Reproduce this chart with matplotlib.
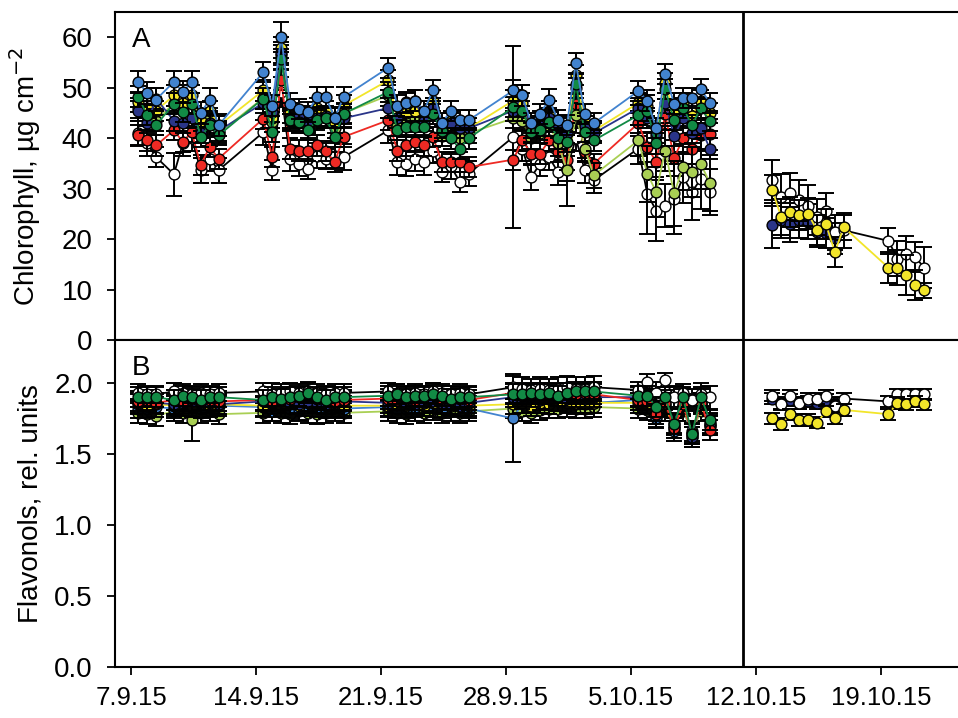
import numpy as np
import matplotlib
matplotlib.use("Agg")
import matplotlib.pyplot as plt
from matplotlib import font_manager

plt.rcParams['font.family'] = ['Liberation Sans', 'DejaVu Sans']
installed = {f.name for f in font_manager.fontManager.ttflist}
if 'Liberation Sans Narrow' in installed:
    xtick_font, xtick_size = 'Liberation Sans Narrow', 22.5
else:
    xtick_font, xtick_size = 'Liberation Sans', 18.5

# days since 7.9.15
days_left = [0.4, 0.9, 1.4, 2.4, 2.9, 3.4, 3.9, 4.4, 4.9,
             7.4, 7.9, 8.4, 8.9, 9.4, 9.9, 10.4, 10.9, 11.4, 11.9,
             14.4, 14.9, 15.4, 15.9, 16.4, 16.9, 17.4, 17.9, 18.4, 18.9,
             21.4, 21.9, 22.4, 22.9, 23.4, 23.9, 24.4, 24.9, 25.4, 25.9,
             28.4, 28.9, 29.4, 29.9, 30.4, 30.9, 31.4, 31.9, 32.4]
days_right = [35.9, 36.4, 36.9, 37.4, 37.9, 38.4, 38.9, 39.4, 39.9,
              42.4, 42.9, 43.4, 43.9, 44.4]
tick_days = [0, 7, 14, 21, 28, 35, 42]
tick_labels = ['7.9.15', '14.9.15', '21.9.15', '28.9.15', '5.10.15', '12.10.15', '19.10.15']
split_day = 34.27

# ---- A: chlorophyll ----
chl_white = [41.0, 39.0, 36.3, 32.9, 39.0, 40.0, 33.7, 36.0, 33.7,
             41.2, 33.7, 49.2, 36.0, 35.0, 34.0, 36.6, 36.0, 36.6, 36.3,
             41.6, 35.3, 35.0, 36.0, 35.3, 37.6, 33.3, 34.5, 31.4, 33.0,
             40.3, 38.0, 32.3, 35.0, 36.3, 33.3, 34.0, 40.0, 33.7, 31.7,
             38.0, 29.0, 25.7, 26.7, 28.0, 32.3, 29.4, 32.0, 29.4]
chl_red = [40.6, 39.6, 38.6, 41.6, 39.3, 41.2, 34.7, 38.3, 36.0,
           43.9, 36.3, 51.5, 38.0, 37.6, 37.6, 38.6, 37.5, 35.3, 40.3,
           43.6, 37.6, 38.6, 39.3, 38.6, 40.3, 35.3, 35.3, 35.3, 34.3,
           35.8, 39.6, 37.0, 37.0, 39.6, 37.3, 35.8, 46.9, 37.3, 35.0,
           43.0, 38.3, 35.3, 44.8, 36.1, 40.0, 38.0, 40.6, 40.8]
chl_ygreen = [46.0, 44.5, 43.5, 47.0, 45.5, 47.0, 42.0, 44.0, 41.0,
              48.0, 43.2, 56.5, 43.5, 43.0, 42.0, 44.5, 44.0, 42.0, 45.0,
              48.5, 42.5, 43.5, 44.0, 42.5, 46.0, 40.5, 42.0, 40.0, 41.0,
              44.0, 43.5, 40.0, 41.0, 42.5, 39.0, 33.7, 44.6, 38.0, 32.7,
              39.6, 33.0, 29.4, 37.6, 29.1, 34.3, 33.3, 34.9, 31.2]
chl_yellow = [47.2, 46.0, 45.5, 48.5, 47.0, 48.5, 43.5, 45.5, 42.5,
              49.5, 44.0, 58.0, 45.0, 44.0, 43.0, 46.0, 45.5, 43.0, 46.5,
              51.5, 44.0, 45.0, 45.5, 44.0, 47.5, 42.0, 43.5, 42.0, 42.0,
              47.5, 47.0, 42.0, 43.5, 45.5, 42.5, 41.0, 52.5, 43.0, 41.5,
              47.0, 46.5, 40.5, 51.0, 45.0, 47.0, 44.5, 47.5, 45.0]
chl_navy = [45.5, 43.0, 47.9, 43.5, 43.0, 44.0, 41.0, 43.0, 41.5,
            47.0, 45.2, 57.0, 44.0, 44.5, 43.5, 44.0, 44.5, 44.2, 44.0,
            46.0, 44.0, 47.2, 47.5, 43.5, 46.0, 41.5, 43.0, 42.0, 42.0,
            45.5, 48.5, 41.0, 42.5, 44.0, 42.0, 41.0, 50.0, 42.5, 41.0,
            46.0, 44.0, 41.0, 47.0, 40.5, 44.0, 41.0, 42.0, 38.0]
chl_green = [48.3, 44.6, 42.6, 46.9, 45.2, 46.9, 40.3, 42.6, 40.6,
             47.9, 41.2, 55.8, 43.6, 43.2, 41.6, 43.6, 44.0, 40.3, 44.9,
             49.2, 41.6, 42.2, 42.2, 42.2, 44.9, 41.5, 40.0, 38.0, 40.0,
             46.2, 45.5, 41.2, 41.6, 43.2, 40.0, 39.3, 50.8, 41.2, 39.6,
             44.6, 45.5, 39.0, 49.8, 43.6, 46.1, 42.6, 46.1, 43.4]
chl_blue = [51.2, 49.0, 47.7, 51.2, 49.2, 51.2, 45.0, 47.7, 42.6,
            53.1, 46.5, 60.1, 46.9, 45.9, 45.2, 48.2, 48.2, 44.0, 48.2,
            54.0, 46.5, 47.0, 47.5, 45.5, 49.5, 43.0, 45.5, 43.6, 43.6,
            49.5, 48.5, 43.0, 44.9, 47.7, 43.7, 42.7, 54.9, 44.9, 43.0,
            49.4, 47.5, 42.0, 52.7, 46.9, 48.0, 48.0, 49.8, 47.0]

chl_white_sd = [2.5, 2.5, 2.0, 4.3, 2.5, 2.5, 2.5, 2.5, 2.5,
                2.5, 2.0, 3.0, 2.5, 2.5, 2.0, 2.5, 2.0, 2.5, 2.5,
                2.5, 2.5, 2.5, 2.5, 2.5, 2.5, 2.0, 2.5, 2.0, 2.5,
                18.0, 2.5, 2.5, 2.5, 2.5, 2.5, 2.5, 2.5, 2.5, 2.5,
                3.0, 8.0, 6.0, 4.3, 7.0, 5.0, 5.5, 6.0, 4.5]
chl_red_sd = [2.0] * 39 + [2.5, 3.0, 3.0, 3.0, 3.5, 3.0, 3.0, 3.0, 3.0]
chl_ygreen_sd = [2.0] * 34 + [2.5, 7.0, 2.5, 2.5, 2.5,
                              3.0, 5.5, 5.0, 4.0, 6.5, 4.5, 5.0, 5.0, 5.5]
chl_yellow_sd = [2.0] * 48
chl_navy_sd = [2.0] * 48
chl_green_sd = [2.0] * 48
chl_blue_sd = [2.2] * 9 + [2.0, 2.0, 3.0] + [2.0] * 27 + [2.0] * 9

chl_white_r = [31.7, 28.4, 29.1, 27.7, 26.7, 24.4, 25.7, 21.4, 21.8,
               19.7, 16.2, 17.2, 16.5, 14.4]
chl_yellow_r = [29.7, 24.4, 25.4, 24.8, 25.1, 21.8, 23.0, 17.5, 22.4,
                14.4, 14.4, 12.9, 11.0, 9.9]
chl_navy_r = [22.8, 23.8, 23.0, 23.8, 23.5, 21.5, 21.2, 20.2, np.nan,
              np.nan, np.nan, np.nan, np.nan, np.nan]
chl_white_r_sd = [4.0, 4.5, 4.0, 4.0, 4.0, 3.5, 3.5, 3.5, 3.5,
                  2.5, 3.5, 3.5, 3.0, 4.0]
chl_yellow_r_sd = [3.0, 3.5, 3.0, 3.0, 3.0, 3.0, 3.0, 3.0, 2.5,
                   3.0, 3.5, 4.0, 3.0, 1.5]
chl_navy_r_sd = [4.5, 3.5, 3.5, 3.5, 3.5, 3.0, 3.0, 3.0, np.nan,
                 np.nan, np.nan, np.nan, np.nan, np.nan]

# ---- B: flavonols ----
flv_white = [1.93, 1.92, 1.92, 1.94, 1.93, 1.92, 1.93, 1.92, 1.93,
             1.94, 1.92, 1.93, 1.94, 1.93, 1.94, 1.93, 1.92, 1.93, 1.93,
             1.94, 1.93, 1.92, 1.93, 1.92, 1.94, 1.93, 1.92, 1.93, 1.92,
             1.97, 1.96, 1.95, 1.96, 1.95, 1.96, 1.97, 1.96, 1.96, 1.97,
             1.95, 2.01, 1.93, 2.02, 1.90, 1.93, 1.88, 1.92, 1.90]
flv_red = [1.87, 1.88, 1.86, 1.88, 1.87, 1.89, 1.87, 1.88, 1.87,
           1.88, 1.87, 1.88, 1.89, 1.90, 1.94, 1.89, 1.88, 1.87, 1.88,
           1.89, 1.88, 1.89, 1.88, 1.90, 1.93, 1.89, 1.88, 1.89, 1.88,
           1.93, 1.91, 1.92, 1.93, 1.92, 1.91, 1.93, 1.92, 1.93, 1.92,
           1.88, 1.87, 1.78, 1.86, 1.68, 1.85, 1.65, 1.86, 1.67]
flv_ygreen = [1.79, 1.78, 1.77, 1.80, 1.79, 1.74, 1.79, 1.80, 1.78,
              1.79, 1.80, 1.79, 1.78, 1.80, 1.79, 1.78, 1.79, 1.80, 1.79,
              1.80, 1.79, 1.78, 1.80, 1.79, 1.81, 1.79, 1.80, 1.79, 1.80,
              1.82, 1.80, 1.79, 1.81, 1.82, 1.82, 1.83, 1.82, 1.82, 1.83,
              1.82, 1.81, 1.76, 1.80, 1.70, 1.80, 1.66, 1.80, 1.71]
flv_yellow = [1.85, 1.84, 1.85, 1.84, 1.85, 1.84, 1.85, 1.84, 1.85,
              1.84, 1.85, 1.84, 1.85, 1.84, 1.86, 1.85, 1.84, 1.85, 1.84,
              1.84, 1.85, 1.84, 1.85, 1.84, 1.86, 1.85, 1.84, 1.85, 1.84,
              1.85, 1.86, 1.84, 1.86, 1.85, 1.87, 1.86, 1.86, 1.85, 1.86,
              1.86, 1.85, 1.78, 1.84, 1.68, 1.84, 1.64, 1.85, 1.70]
flv_navy = [1.86, 1.87, 1.86, 1.85, 1.86, 1.87, 1.86, 1.86, 1.85,
            1.87, 1.86, 1.87, 1.86, 1.85, 1.87, 1.86, 1.85, 1.86, 1.87,
            1.86, 1.87, 1.86, 1.85, 1.86, 1.87, 1.86, 1.85, 1.84, 1.86,
            1.90, 1.89, 1.90, 1.88, 1.89, 1.90, 1.89, 1.90, 1.89, 1.90,
            1.90, 1.89, 1.80, 1.88, 1.72, 1.89, 1.62, 1.89, 1.72]
flv_green = [1.90, 1.90, 1.90, 1.88, 1.91, 1.90, 1.88, 1.90, 1.90,
             1.88, 1.90, 1.89, 1.90, 1.91, 1.93, 1.90, 1.88, 1.90, 1.90,
             1.91, 1.92, 1.90, 1.91, 1.91, 1.92, 1.91, 1.89, 1.90, 1.90,
             1.92, 1.92, 1.93, 1.92, 1.93, 1.91, 1.93, 1.94, 1.94, 1.94,
             1.91, 1.91, 1.83, 1.90, 1.71, 1.90, 1.64, 1.90, 1.74]
flv_blue = [1.82, 1.82, 1.83, 1.82, 1.84, 1.83, 1.82, 1.83, 1.84,
            1.83, 1.80, 1.83, 1.82, 1.81, 1.84, 1.83, 1.82, 1.83, 1.82,
            1.83, 1.82, 1.82, 1.83, 1.84, 1.83, 1.82, 1.84, 1.83, 1.82,
            1.75, 1.86, 1.87, 1.86, 1.85, 1.87, 1.87, 1.85, 1.86, 1.86,
            1.88, 1.86, 1.75, 1.85, 1.66, 1.84, 1.62, 1.86, 1.70]

flv_sd = [0.07] * 48
flv_ygreen_sd = [0.07] * 5 + [0.15] + [0.07] * 42
flv_blue_sd = [0.07] * 29 + [0.31] + [0.07] * 18
flv_white_sd = [0.06, 0.06, 0.06, 0.06, 0.06, 0.06, 0.06, 0.06, 0.06,
                0.06, 0.08, 0.06, 0.06, 0.06, 0.06, 0.06, 0.06, 0.06, 0.06,
                0.06, 0.06, 0.06, 0.06, 0.06, 0.06, 0.06, 0.06, 0.06, 0.06,
                0.08, 0.08, 0.08, 0.08, 0.08, 0.08, 0.08, 0.08, 0.08, 0.08,
                0.06, 0.05, 0.08, 0.05, 0.08, 0.06, 0.08, 0.08, 0.08]

flv_white_r = [1.91, 1.85, 1.91, 1.86, 1.89, 1.89, 1.91, 1.84, 1.89,
               1.87, 1.92, 1.92, 1.92, 1.92]
flv_yellow_r = [1.75, 1.71, 1.78, 1.74, 1.74, 1.72, 1.80, 1.75, 1.81,
                1.78, 1.86, 1.85, 1.87, 1.85]
flv_navy_r = [1.89, 1.86, 1.88, 1.86, 1.87, 1.86, 1.88, 1.86, np.nan,
              np.nan, np.nan, np.nan, np.nan, np.nan]
flv_r_sd = [0.04] * 14

colors = {'white': ('white', 'black'),
          'red': ('#EE2A24', '#EE2A24'),
          'ygreen': ('#A9CF54', '#A9CF54'),
          'yellow': ('#F2E52A', '#F2E52A'),
          'navy': ('#2A3589', '#2A3589'),
          'green': ('#128A45', '#128A45'),
          'blue': ('#4283CF', '#4283CF')}

chl_left = {'white': (chl_white, chl_white_sd), 'red': (chl_red, chl_red_sd),
            'ygreen': (chl_ygreen, chl_ygreen_sd), 'yellow': (chl_yellow, chl_yellow_sd),
            'navy': (chl_navy, chl_navy_sd), 'green': (chl_green, chl_green_sd),
            'blue': (chl_blue, chl_blue_sd)}
chl_right = {'white': (chl_white_r, chl_white_r_sd), 'navy': (chl_navy_r, chl_navy_r_sd),
             'yellow': (chl_yellow_r, chl_yellow_r_sd)}
flv_left = {'white': (flv_white, flv_white_sd), 'red': (flv_red, flv_sd),
            'ygreen': (flv_ygreen, flv_ygreen_sd), 'yellow': (flv_yellow, flv_sd),
            'navy': (flv_navy, flv_sd), 'green': (flv_green, flv_sd),
            'blue': (flv_blue, flv_blue_sd)}
flv_right = {'white': (flv_white_r, flv_r_sd), 'navy': (flv_navy_r, flv_r_sd),
             'yellow': (flv_yellow_r, flv_r_sd)}

order_a = ['white', 'red', 'ygreen', 'yellow', 'navy', 'green', 'blue']
order_b = ['ygreen', 'blue', 'yellow', 'navy', 'red', 'white', 'green']
right_order = ['navy', 'white', 'yellow']

fig = plt.figure(figsize=(9.58, 7.18), dpi=100)
ax1 = fig.add_axes([0.120, 0.526, 0.882, 0.457])
ax2 = fig.add_axes([0.120, 0.071, 0.882, 0.455])


def draw(ax, x, y, err, face, line, z):
    ax.errorbar(x, y, yerr=err, fmt='none', ecolor='black', elinewidth=1.4,
                capsize=6, capthick=1.4, zorder=z)
    ax.plot(x, y, '-', color=line, lw=1.3, zorder=z + 0.1)
    ax.plot(x, y, 'o', ms=7.8, mfc=face, mec='black', mew=1.0, zorder=z + 0.2)


for ax, left, right, order in [(ax1, chl_left, chl_right, order_a),
                               (ax2, flv_left, flv_right, order_b)]:
    z = 2
    for name in order:
        y, e = left[name]
        draw(ax, days_left, y, e, *colors[name], z)
        z += 1
    for name in right_order:
        y, e = right[name]
        draw(ax, days_right, y, e, *colors[name], z)
        z += 1
    ax.axvline(split_day, color='black', lw=2, zorder=20)
    ax.set_xlim(-0.9, 46.4)
    for s in ax.spines.values():
        s.set_linewidth(1.5)
    ax.tick_params(axis='y', direction='out', length=6, width=1.3, pad=10, labelsize=20)
    ax.yaxis.set_label_coords(-0.085, 0.5)

ax1.set_ylim(0, 65)
ax1.set_yticks([0, 10, 20, 30, 40, 50, 60])
ax1.set_xticks([])
ax1.set_ylabel('Chlorophyll, µg cm$^{-2}$', fontsize=20)
ax1.text(0.02, 0.955, 'A', transform=ax1.transAxes, fontsize=20, va='top', ha='left')

ax2.set_ylim(0, 2.3)
ax2.set_yticks([0.0, 0.5, 1.0, 1.5, 2.0])
ax2.set_yticklabels(['0.0', '0.5', '1.0', '1.5', '2.0'])
ax2.set_xticks(tick_days)
ax2.set_xticklabels(tick_labels, family=xtick_font, size=xtick_size)
ax2.tick_params(axis='x', direction='out', length=6, width=1.3, pad=8)
ax2.set_ylabel('Flavonols, rel. units', fontsize=20)
ax2.text(0.02, 0.955, 'B', transform=ax2.transAxes, fontsize=20, va='top', ha='left')

fig.savefig('out.png', dpi=100)
